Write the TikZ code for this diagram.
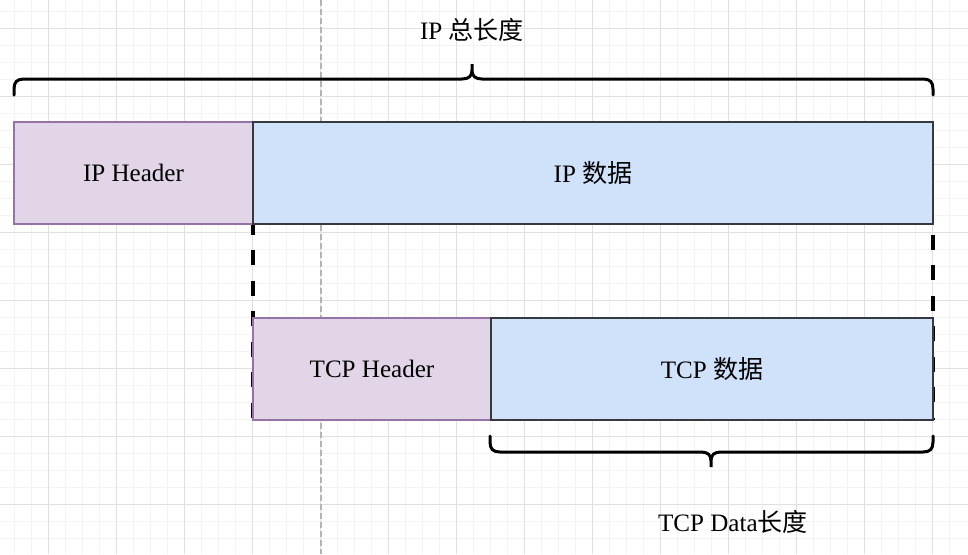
\documentclass[tikz,border=0pt]{standalone}
\usepackage{fontspec}
\setmainfont{Liberation Serif}
\newfontfamily\cjk{Noto Sans CJK SC}
\usetikzlibrary{positioning}

\definecolor{hdrfill}{RGB}{225,213,231}
\definecolor{hdrline}{RGB}{150,115,166}
\definecolor{datfill}{RGB}{208,226,250}
\definecolor{datline}{RGB}{54,57,61}
\definecolor{gridminor}{RGB}{243,243,243}
\definecolor{gridmajor}{RGB}{224,224,224}
\definecolor{guidegray}{RGB}{180,180,180}

\tikzset{every picture/.style={line width=0.75pt},
  hdrbox/.style={draw=hdrline, fill=hdrfill, line width=1.2pt, inner sep=0pt, outer sep=0pt,
    minimum height=76.5pt, font=\fontsize{18.8}{22}\selectfont},
  datbox/.style={draw=datline, fill=datfill, line width=1.5pt, inner sep=0pt, outer sep=0pt,
    minimum height=76.5pt, font=\fontsize{18.8}{22}\selectfont},
  cutline/.style={line width=3pt, dash pattern=on 11.25pt off 11.6pt},
  bracket/.style={line width=2.25pt, line cap=round},
  lbl/.style={inner sep=0.75pt, font=\fontsize{18.8}{22}\selectfont},
  guide/.style={draw=guidegray, line width=1.1pt, dash pattern=on 4.5pt off 2.25pt}
}

\begin{document}
\begin{tikzpicture}[x=0.75pt,y=0.75pt,yscale=-1,xscale=1]
\useasboundingbox (0,0) rectangle (968,554);
\fill[white] (0,0) rectangle (968,554);

%Background grid
\foreach \gx in {14.5,31.5,...,966} \draw[gridminor] (\gx,0) -- (\gx,554);
\foreach \gy in {11.3,28.3,...,554} \draw[gridminor] (0,\gy) -- (968,\gy);
\foreach \gx in {48.5,116.5,...,966} \draw[gridmajor] (\gx,0) -- (\gx,554);
\foreach \gy in {28.3,96.3,...,554} \draw[gridmajor] (0,\gy) -- (968,\gy);

%Guide line
\draw[guide] (321,0) -- (321,554);

%Cut lines
\coordinate (cutL) at (253,224);
\coordinate (cutLend) at (253,420);
\coordinate (cutR) at (933,224);
\coordinate (cutRend) at (933,420);
\draw[cutline, dash phase=3pt] (cutL) -- (cutLend);
\draw[cutline, dash phase=14.6pt] (cutR) -- (cutRend);

%Shape: IP packet
\node[hdrbox, anchor=north west, minimum width=179.25pt] (iphdr) at (14,122) {IP Header};
\node[datbox, minimum width=510pt, right=0pt of iphdr] (ipdata) {IP {\cjk 数据}};

%Shape: TCP segment
\node[hdrbox, anchor=north west, minimum width=178.5pt] (tcphdr) at (253,318) {TCP Header};
\node[datbox, minimum width=331.5pt, right=0pt of tcphdr] (tcpdata) {TCP {\cjk 数据}};

%Curly brace: IP total
\draw[bracket] (14,95) -- (14,89) .. controls (14,82) and (17,79) .. (24,79) -- (462,79) .. controls (469,79) and (472,76) .. (472,70) -- (472,64) -- (472,70) .. controls (472,76) and (475,79) .. (482,79) -- (923,79) .. controls (930,79) and (933,82) .. (933,89) -- (933,95);
%Curly brace: TCP data
\draw[bracket] (490,436) -- (490,442) .. controls (490,449) and (493,452) .. (500,452) -- (701,452) .. controls (708,452) and (711,455) .. (711,461) -- (711,467) -- (711,461) .. controls (711,455) and (714,452) .. (721,452) -- (923,452) .. controls (930,452) and (933,449) .. (933,442) -- (933,436);

% Text Node
\node[lbl] (iptotal) at (472,30) {IP {\cjk 总长度}};
% Text Node
\node[lbl] (tcplen) at (733,522) {TCP Data{\cjk 长度}};

\end{tikzpicture}
\end{document}
